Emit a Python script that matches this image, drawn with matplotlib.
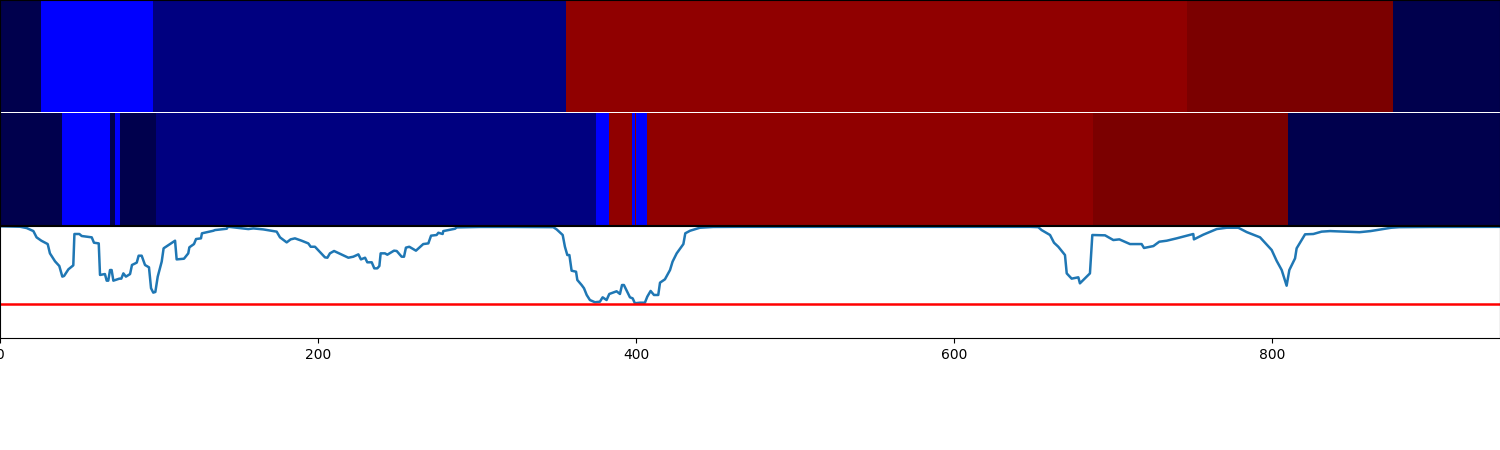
import matplotlib
matplotlib.use("Agg")
import matplotlib.pyplot as plt
from matplotlib.colors import ListedColormap

# segment edges and state of each segment (0 dark navy, 1 blue, 2 navy, 3 dark red, 4 darker red)
top_edges = [0, 26, 96, 356, 746.5, 876, 943.4]
top_states = [0, 1, 2, 3, 4, 0]
mid_edges = [0, 39, 69, 72.3, 75.3, 98, 375, 383.3, 397.3, 399.5, 400.2, 407, 687.7, 810, 943.4]
mid_states = [0, 1, 0, 1, 0, 2, 1, 3, 1, 3, 1, 3, 4, 0]

score_x = [0, 12.6, 16.8, 21, 23, 26, 30, 31.4, 34.6, 37.3, 39.2, 40.3, 43, 46.1, 46.8, 49.9, 51.4, 57.7, 59.1, 62.1,
           62.9, 66, 67.1, 68.1, 69.2, 70.2, 71.3, 75.1, 76.3, 77.6, 79.2, 81.8, 83, 86, 87.2, 89.1, 91.2, 93.7, 95, 96.4,
           97.7, 99.2, 101.7, 102.9, 110.1, 111.1, 115.7, 118.4, 119.1, 122, 123.3, 126.4, 127, 134.2, 135.2, 142.6, 143.4, 148.8, 156.2, 159.3,
           165.6, 174, 176.1, 180.3, 182.8, 185.5, 189.7, 193.9, 195.4, 198.1, 204.4, 205.9, 207.5, 210.1, 219.1, 222.2, 225.4, 227, 229.6, 231,
           233.8, 235.4, 237.3, 238.6, 239.4, 242.1, 243.6, 247.8, 249.5, 252.6, 254.1, 255.3, 257.4, 261.6, 266.2, 269.4, 271.1, 274.6, 275.7, 278.4,
           278.8, 286.2, 287.2, 301.9, 322.8, 348, 350.1, 353.9, 355.3, 356.8, 358.1, 359.5, 362.3, 363.1, 365.8, 367.3, 369, 371, 374.2, 377.3,
           379, 381.5, 383.2, 387.8, 389.9, 391.2, 392.4, 393.7, 396.2, 397.9, 399.3, 402.5, 405.6, 407.1, 409.2, 411.3, 414, 415.1, 418.2, 421.4,
           423, 425.6, 429.8, 431, 434, 440.2, 448.6, 465.4, 550, 640, 647.8, 653, 655.1, 660.4, 662.9, 665.6, 669.8, 670.9, 674, 678.2,
           679.2, 685.5, 687, 695, 700.2, 704, 710.7, 718, 719.5, 725.4, 729.1, 733.8, 740, 750.5, 750.9, 756.8, 765.2, 771.5, 778.8, 784.1,
           792.5, 799.8, 802.9, 806.1, 809.2, 810.9, 814.5, 815.5, 820.8, 826, 831.2, 836.5, 855, 862, 875, 880, 900, 943.4]
score_y = [.998, .994, .982, .955, .899, .869, .839, .756, .685, .643, .548, .554, .613, .649, .929, .929, .911, .899, .851, .845,
           .563, .571, .512, .512, .607, .607, .512, .530, .530, .577, .548, .571, .652, .673, .735, .735, .652, .631, .444, .405,
           .411, .548, .682, .801, .869, .702, .708, .756, .810, .839, .884, .890, .935, .958, .964, .976, .994, .985, .973, .979,
           .970, .950, .899, .854, .881, .890, .869, .845, .815, .815, .720, .717, .756, .777, .717, .726, .747, .702, .717, .676,
           .676, .622, .622, .643, .756, .756, .744, .780, .777, .726, .726, .807, .815, .780, .839, .845, .914, .920, .940, .929,
           .955, .976, .988, .992, .992, .990, .970, .920, .815, .741, .741, .601, .592, .518, .473, .444, .384, .339, .319, .324,
           .363, .339, .393, .417, .393, .473, .473, .435, .363, .354, .31, .315, .315, .369, .420, .384, .384, .494, .524, .607,
           .682, .756, .839, .935, .958, .985, .992, .993, .993, .993, .993, .990, .964, .920, .851, .815, .741, .577, .530, .542,
           .488, .577, .920, .917, .875, .881, .839, .839, .804, .821, .860, .869, .890, .929, .881, .923, .973, .985, .985, .946,
           .899, .786, .690, .607, .467, .607, .711, .801, .926, .929, .950, .955, .945, .955, .985, .99, .992, .993]
threshold = 0.3

colors = ListedColormap(["#00004d", "#0000ff", "#000080", "#900000", "#7b0000"])

fig, (ax1, ax2, ax3) = plt.subplots(3, 1, figsize=(15, 4.5), sharex=True)
fig.subplots_adjust(left=0, right=1, top=1, bottom=0.249, hspace=0.01)

ax1.pcolormesh(top_edges, [0, 1], [top_states], cmap=colors, vmin=-0.5, vmax=4.5)
ax2.pcolormesh(mid_edges, [0, 1], [mid_states], cmap=colors, vmin=-0.5, vmax=4.5)
ax1.set_yticks([])
ax2.set_yticks([])
ax1.tick_params(bottom=False)
ax2.tick_params(bottom=False)
ax1.spines["bottom"].set_visible(False)
ax2.spines["top"].set_visible(False)

ax3.plot(score_x, score_y, lw=1.8)
ax3.axhline(threshold, color="red", lw=1.8)
ax3.set_ylim(0, 1)
ax3.set_yticks([])
ax3.set_xlim(0, 943.4)

fig.savefig("out.png", dpi=100)
